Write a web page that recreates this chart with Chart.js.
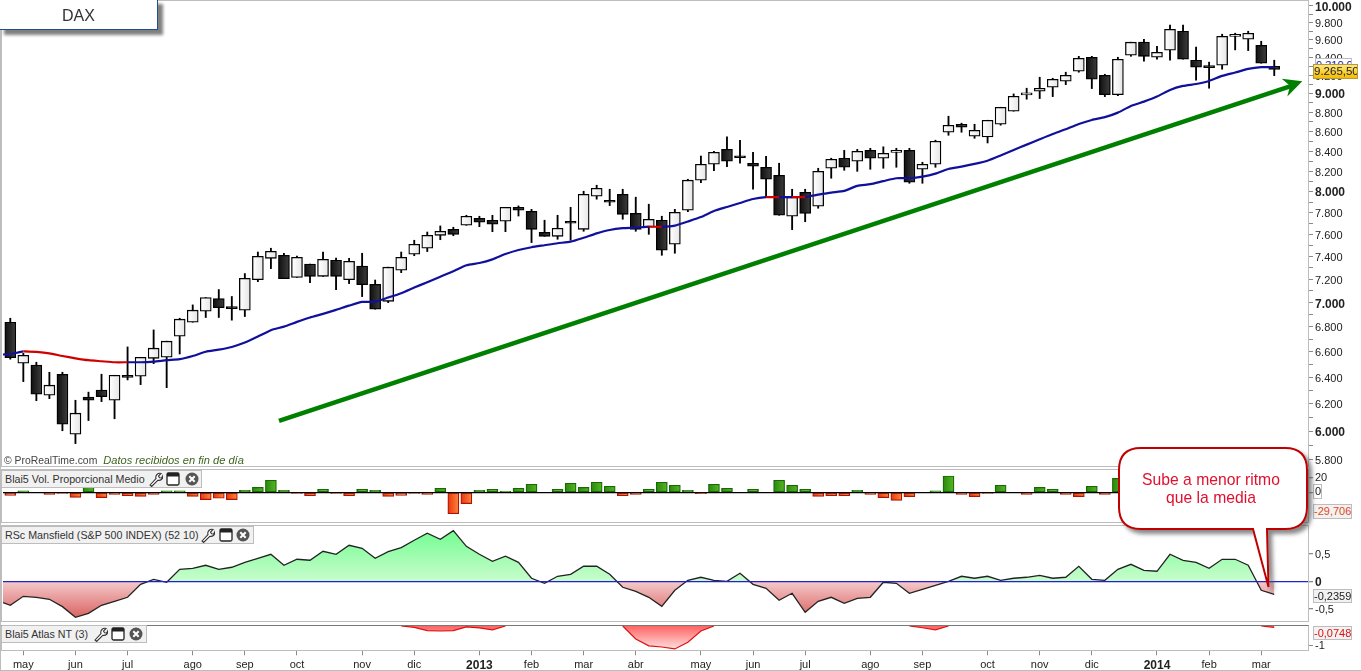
<!DOCTYPE html>
<html>
<head>
<meta charset="utf-8">
<title>DAX</title>
<script src="https://cdn.jsdelivr.net/npm/chart.js@4"></script>
<style>
  body { margin: 0; background: #fff; font-family: "Liberation Sans", Arial, sans-serif; width: 1361px; height: 671px; overflow: hidden; position: relative; }
  canvas { position: absolute; left: 0; }
  .frame { position: absolute; box-sizing: border-box; border: 1.5px solid #bdbdbd; pointer-events: none; }
  .cabecera { position: absolute; left: 2px; box-sizing: border-box; background: #f1f1f1; border: 1px solid #bdbdbd; border-left: none; font-size: 10.7px; color: #333; line-height: 16px; padding-left: 3px; white-space: nowrap; }
  .cabecera svg { position: absolute; top: 0; }
  .badge { position: absolute; box-sizing: border-box; border: 1px solid #bdbdbd; background: #f2f2f2; font-size: 11px; text-align: center; white-space: nowrap; overflow: hidden; }
  #titulo { position: absolute; left: -1px; top: -1px; width: 159px; height: 31px; box-sizing: border-box; background: #fff; border: 1.5px solid #1f4e8c; box-shadow: 5px 5px 3px #808080; text-align: center; font-size: 16px; line-height: 31px; color: #333; }
  #marca { position: absolute; left: 4px; top: 454px; font-size: 10.4px; line-height: 13px; color: #444; white-space: nowrap; }
  #marca i { color: #3f6420; margin-left: 3px; font-size: 11.1px; }
  #globo { position: absolute; left: 0; top: 0; pointer-events: none; }
</style>
</head>
<body>
<canvas id="graficaPrecio" width="1361" height="466" style="top:0"></canvas>
<canvas id="graficaVol" width="1361" height="52" style="top:470px"></canvas>
<canvas id="graficaRsc" width="1361" height="95" style="top:526px"></canvas>
<canvas id="graficaAtlas" width="1361" height="45" style="top:626px"></canvas>

<div class="frame" style="left:1px;top:0;width:1308px;height:467px"></div>
<div class="frame" style="left:1px;top:469px;width:1308px;height:54px"></div>
<div class="frame" style="left:1px;top:525px;width:1308px;height:97px"></div>
<div class="frame" style="left:1px;top:625px;width:1308px;height:26px;border-top-color:#777"></div>
<div class="frame" style="left:-3px;top:650px;width:1370px;height:21px;border-top:none;border-right:none"></div>
<div class="frame" style="left:0;top:0;width:2px;height:671px;border-right:none"></div>

<div id="titulo">DAX</div>
<div id="marca">© ProRealTime.com <i>Datos recibidos en fin de día</i></div>

<div class="cabecera" id="cabVol" style="top:470px;width:200px;height:18px">Blai5 Vol. Proporcional Medio</div>
<div class="cabecera" id="cabRsc" style="top:526px;width:252px;height:18px">RSc Mansfield (S&amp;P 500 INDEX) (52 10)</div>
<div class="cabecera" id="cabAtlas" style="top:625px;width:145px;height:18px">Blai5 Atlas NT (3)</div>

<div class="badge" style="left:1315px;top:58px;width:37px;height:14px;background:#fff;color:#1a1aa0;line-height:12px">9.310,0</div>
<div class="badge" style="left:1313px;top:64px;width:45px;height:15px;background:linear-gradient(#ffe680,#f5bc00);border-color:#b59a3a;color:#222;line-height:13px;font-size:11.5px">9.265,50</div>
<div class="badge" style="left:1313px;top:484px;width:9px;height:15px;background:transparent"></div>
<div class="badge" style="left:1313px;top:504px;width:39px;height:15px;color:#e2491c;line-height:13px">-29,706</div>
<div class="badge" style="left:1313px;top:589px;width:39px;height:14px;color:#222;line-height:12px">-0,2359</div>
<div class="badge" style="left:1313px;top:626px;width:39px;height:14px;color:#e01010;line-height:12px">-0,0748</div>

<svg id="globo" width="1361" height="671">
  <defs><filter id="sombra" x="-10%" y="-10%" width="125%" height="125%"><feDropShadow dx="4" dy="4" stdDeviation="2" flood-color="#555" flood-opacity="0.7"/></filter></defs>
  <path d="M1141 448 H1285 Q1307 448 1307 470 V507 Q1307 529 1285 529 H1267 L1268.5 587 L1253 529 H1141 Q1119 529 1119 507 V470 Q1119 448 1141 448 Z" fill="#fff" stroke="#c00000" stroke-width="2" filter="url(#sombra)"/>
  <text x="1211" y="485" text-anchor="middle" font-family="Liberation Sans" font-size="15.7" fill="#e0102e">Sube a menor ritmo</text>
  <text x="1211" y="503" text-anchor="middle" font-family="Liberation Sans" font-size="15.7" fill="#e0102e">que la media</text>
</svg>

<script>
// Velas semanales
const aperturas = [6838,6509,6494,6264,6423,5977,6249,6302,6226,6408,6408,6548,6556,6724,6838,6930,7036,6963,6938,7197,7384,7411,7217,7332,7226,7367,7197,7316,7157,7012,7279,7420,7474,7591,7646,7683,7748,7730,7720,7851,7813,7618,7582,7720,7646,7956,7918,7975,7794,7665,7730,7510,7823,8111,8268,8417,8340,8278,8238,8158,7767,7994,7861,8228,8328,8298,8407,8328,8387,8407,8218,8268,8592,8675,8551,8544,8675,8812,8986,9026,9070,9135,9246,9402,9201,8989,9425,9574,9402,9482,9701,9369,9302,9313,9642,9608,9539,9300];
const maximos = [6871,6587,6517,6439,6439,6226,6287,6424,6416,6638,6556,6775,6684,6871,6982,7044,7112,7053,7250,7440,7474,7429,7404,7332,7440,7387,7384,7429,7194,7306,7440,7546,7621,7677,7665,7776,7767,7776,7851,7864,7832,7730,7776,7851,8004,8062,8023,8023,7947,7880,7767,7832,8120,8350,8397,8544,8510,8387,8347,8278,8023,8023,8228,8328,8407,8417,8428,8443,8428,8428,8288,8510,8759,8686,8675,8717,8854,8997,9059,9179,9168,9235,9413,9413,9212,9402,9574,9608,9528,9774,9774,9517,9347,9666,9678,9701,9585,9369];
const minimos = [6541,6367,6223,6238,6002,5910,6076,6216,6089,6380,6344,6506,6321,6582,6838,6877,6877,6855,6885,7180,7293,7205,7217,7171,7226,7112,7163,7052,6946,7001,7258,7407,7444,7551,7587,7683,7670,7624,7624,7769,7525,7582,7555,7546,7628,7928,7867,7739,7628,7600,7411,7429,7810,8087,8204,8244,8278,8023,7947,7776,7643,7716,7842,8130,8208,8198,8218,8228,8238,8081,8081,8238,8561,8592,8530,8482,8665,8812,8940,8947,8968,9098,9235,9055,8968,8978,9413,9358,9380,9369,9380,9146,9059,9268,9486,9478,9335,9197];
const cierres = [6553,6572,6272,6340,6049,6130,6226,6253,6416,6400,6556,6628,6684,6863,6938,7044,6959,6951,7208,7402,7447,7205,7393,7226,7375,7226,7358,7154,6946,7306,7393,7510,7591,7628,7600,7767,7711,7693,7851,7823,7646,7582,7656,7702,7975,8033,7899,7785,7646,7739,7456,7804,8111,8268,8387,8298,8333,8248,8120,7776,7947,7794,8198,8318,8238,8397,8328,8377,8407,8091,8268,8500,8665,8644,8612,8717,8854,8972,8994,9059,9157,9201,9391,9157,8989,9380,9574,9413,9459,9724,9380,9291,9286,9642,9650,9678,9335,9265.5];

// Media móvil (mediaInicio y rscInicio: valor en el borde izquierdo del panel)
const media = [6580,6603,6598,6587,6566,6548,6533,6525,6517,6517,6517,6522,6533,6541,6566,6600,6616,6638,6673,6721,6773,6802,6841,6877,6907,6940,6976,7007,7009,7044,7081,7129,7175,7223,7270,7323,7343,7375,7422,7458,7483,7501,7519,7533,7569,7609,7640,7656,7661,7671,7668,7680,7718,7759,7816,7854,7892,7930,7947,7947,7947,7950,7971,7991,8007,8056,8072,8102,8130,8130,8145,8175,8221,8244,8271,8303,8355,8411,8465,8520,8574,8622,8678,8720,8749,8797,8868,8914,8968,9040,9084,9105,9138,9194,9231,9272,9291,9291];
const mediaInicio = 6578;
const tramosRojos = [2,3,4,5,6,7,8,9,50,59,61];

// Flecha verde (semana, precio)
const flechaX = [20.62, 98.44];
const flechaY = [6074, 9090];

// Paneles inferiores
const volumen = [-4.2,1.9,0,-2.8,-1.4,-7,7,-7.4,-2.8,-4.6,-5.6,-2.8,1.9,1.9,-5.6,-10.2,-8.3,-10.2,2.8,6.9,16.7,2.8,-1.4,-4.6,4.2,-1.4,-4.6,4.2,2.8,-5.6,-4.2,-1.4,-2.8,5.6,-29.706,-15.7,2.8,4.2,1.4,5.6,11.1,0,4.2,12.5,6.9,13.9,8.3,-4.6,-2.8,4.2,13.9,9.7,2.8,-1.9,11.1,5.6,0,4.2,0,16.7,9.7,4.2,-5.6,-4.6,-4.6,2.8,-2.8,-7.4,-11.1,-6,0,1.9,22.7,-2.8,-6,-1.4,9.7,0,-2.8,6.9,4.2,-2.8,-6,8.3,-2.8,19.4];
const rsc = [-0.436,-0.273,-0.291,-0.327,-0.461,-0.655,-0.582,-0.436,-0.364,-0.291,-0.055,0.036,-0.018,0.218,0.236,0.291,0.218,0.255,0.345,0.418,0.491,0.291,0.4,0.382,0.545,0.491,0.655,0.6,0.418,0.539,0.612,0.745,0.873,0.764,0.921,0.636,0.491,0.364,0.455,0.345,0.055,-0.036,0.091,0.127,0.273,0.273,0.127,-0.109,-0.182,-0.291,-0.455,-0.164,0.018,0.073,0.018,0,0.145,-0.055,-0.127,-0.345,-0.218,-0.564,-0.364,-0.291,-0.4,-0.309,-0.291,-0.018,-0.036,-0.218,-0.145,-0.073,0,0.091,0.055,0.091,0.018,0.055,0.073,0.109,0.055,0.073,0.273,0.036,0.018,0.218,0.309,0.2,0.182,0.491,0.382,0.345,0.236,0.4,0.4,0.291,-0.164,-0.2359];
const rscInicio = -0.388;
const atlas = [0,0,0,0,0,0,0,0,0,0,0,0,0,0,0,0,0,0,0,0,0,0,0,0,0,0,0,0,0,0,0,-0.07,-0.24,-0.26,-0.24,-0.05,-0.1,-0.2,0,0,0,0,0,0,0,0,0,0,-0.67,-1.03,-1.09,-1.19,-0.84,-0.26,0,0,0,0,0,0,0,0,0,0,0,0,0,0,0,0,-0.09,-0.2,0,0,0,0,0,0,0,0,0,0,0,0,0,0,0,0,0,0,0,0,0,0,0,0,0,-0.0748];

// Ejes
const mesesTexto = ["may","jun","jul","ago","sep","oct","nov","dic","2013","feb","mar","abr","may","jun","jul","ago","sep","oct","nov","dic","2014","feb","mar"];
const mesesSemana = [1,5,9,14,18,22,27,31,36,40,44,48,53,57,61,66,70,75,79,83,88,92,96];
const preciosMarcas = [10000,9800,9600,9400,9200,9000,8800,8600,8400,8200,8000,7800,7600,7400,7200,7000,6800,6600,6400,6200,6000,5800];
const preciosMedios = [9900,9700,9500,9300,9100,8900,8700,8500,8300,8100,7900,7700,7500,7300,7100,6900,6700,6500,6300,6100,5900];

const xMin = -0.56, xMax = 99.59;

Chart.defaults.font.family = '"Liberation Sans", Arial, sans-serif';
Chart.defaults.font.size = 11;
Chart.defaults.color = "#222";
Chart.defaults.animation = false;
Chart.defaults.responsive = false;
Chart.defaults.plugins.legend.display = false;
Chart.defaults.plugins.tooltip.enabled = false;

const puntos = arr => arr.map((y, x) => ({ x, y }));

// Degradado horizontal de cada barra
function degradado(ctx, izq, der) {
    const esc = ctx.chart.scales.x;
    const px = esc ? esc.getPixelForValue(ctx.dataIndex) : NaN;
    if (!Number.isFinite(px)) return izq;
    const g = ctx.chart.ctx.createLinearGradient(px - 5, 0, px + 5, 0);
    g.addColorStop(0, izq);
    g.addColorStop(1, der);
    return g;
}

function ejeX() {
    return { type: "linear", offset: false, min: xMin, max: xMax, display: false, grid: { display: false }, ticks: { display: false } };
}

// El eje derecho no debe robar espacio al área de dibujo
function ajustarEjeY(s) {
    s.width = 53;
    s.paddingTop = 0;
    s.paddingBottom = 0;
}

function ejeY(extra) {
    return Object.assign({
        position: "right",
        afterFit: ajustarEjeY,
        border: { display: false },
        grid: { drawOnChartArea: false, tickLength: 5, tickColor: "#8a8a8a" },
        ticks: { padding: 2, autoSkip: false, maxRotation: 0 }
    }, extra);
}

// Punta de la flecha verde
const puntaFlecha = {
    id: "puntaFlecha",
    afterDatasetsDraw(chart) {
        const ex = chart.scales.x.getPixelForValue(flechaX[1]);
        const ey = chart.scales.y.getPixelForValue(flechaY[1]);
        const c = chart.ctx;
        c.save();
        c.fillStyle = "#008000";
        c.beginPath();
        c.moveTo(ex + 9.3, ey - 4.2);
        c.lineTo(ex - 11.3, ey - 6.5);
        c.lineTo(ex - 3, ey + 0.5);
        c.lineTo(ex - 5.7, ey + 11.2);
        c.closePath();
        c.fill();
        c.restore();
    }
};

// Precio
new Chart(document.getElementById("graficaPrecio"), {
    type: "bar",
    plugins: [puntaFlecha],
    data: {
        datasets: [
            {
                type: "line", order: 0,
                data: flechaX.map((x, i) => ({ x, y: flechaY[i] })),
                borderColor: "#008000", borderWidth: 4.5, pointRadius: 0, borderCapStyle: "butt"
            },
            {
                type: "line", order: 1,
                data: [{ x: xMin, y: mediaInicio }, ...puntos(media)],
                borderColor: "#10109c", borderWidth: 2.2, pointRadius: 0, tension: 0.2,
                segment: { borderColor: c => tramosRojos.includes(c.p0DataIndex) ? "#d00000" : "#10109c" }
            },
            {
                order: 2, grouped: false, maxBarThickness: 11, barPercentage: 1, categoryPercentage: 1, minBarLength: 2,
                data: aperturas.map((o, x) => ({ x, y: [o, cierres[x]] })),
                borderColor: "#000", borderWidth: 1.3, borderSkipped: false,
                backgroundColor: c => cierres[c.dataIndex] >= aperturas[c.dataIndex]
                    ? degradado(c, "#ffffff", "#e6e6e6")
                    : degradado(c, "#111111", "#3c3c3c")
            },
            {
                order: 3, grouped: false, maxBarThickness: 1.2, barPercentage: 1, categoryPercentage: 1,
                data: maximos.map((h, x) => ({ x, y: [minimos[x], h] })),
                backgroundColor: "#000"
            }
        ]
    },
    options: {
        layout: { padding: { left: 3, top: 1 } },
        scales: {
            x: ejeX(),
            y: ejeY({
                type: "logarithmic", min: 5753, max: 10060,
                afterBuildTicks: s => { s.ticks = preciosMarcas.concat(preciosMedios).map(value => ({ value })); },
                ticks: {
                    padding: 2, autoSkip: false, maxRotation: 0, labelOffset: 1.5,
                    callback: v => preciosMarcas.includes(v) ? String(v).replace(/(\d)(\d{3})$/, "$1.$2") : "",
                    font: c => c.tick && c.tick.value % 1000 === 0 ? { size: 12, weight: "bold" } : { size: 11 }
                }
            })
        }
    }
});

// Volumen
new Chart(document.getElementById("graficaVol"), {
    type: "bar",
    data: {
        datasets: [{
            grouped: false, maxBarThickness: 11, barPercentage: 1, categoryPercentage: 1,
            data: puntos(volumen),
            borderWidth: 1.2, borderSkipped: false,
            borderColor: c => volumen[c.dataIndex] >= 0 ? "#156a00" : "#b01400",
            backgroundColor: c => volumen[c.dataIndex] >= 0
                ? degradado(c, "#2a8a0c", "#55b524")
                : degradado(c, "#e83a12", "#ff8238")
        }]
    },
    options: {
        layout: { padding: { left: 3 } },
        scales: {
            x: ejeX(),
            y: ejeY({
                min: -41.25, max: 31,
                afterBuildTicks: s => { s.ticks = [20, 0].map(value => ({ value })); },
                grid: { z: 1, tickLength: 5, tickColor: "#8a8a8a", color: c => c.tick.value === 0 ? "#000" : "transparent", lineWidth: 1.3 }
            })
        }
    }
});

// RSc Mansfield
const ctxRsc = document.getElementById("graficaRsc").getContext("2d");
const verdeRsc = ctxRsc.createLinearGradient(0, 0, 0, 55);
verdeRsc.addColorStop(0, "#6cfc8c");
verdeRsc.addColorStop(1, "#c8fdcc");
const rojoRsc = ctxRsc.createLinearGradient(0, 55, 0, 95);
rojoRsc.addColorStop(0, "#f5cccc");
rojoRsc.addColorStop(1, "#d85858");

new Chart(ctxRsc, {
    type: "line",
    data: {
        datasets: [{
            data: [{ x: xMin, y: rscInicio }, ...puntos(rsc)],
            borderColor: "#222", borderWidth: 1.3, pointRadius: 0,
            fill: { target: { value: 0 }, above: verdeRsc, below: rojoRsc }
        }]
    },
    options: {
        layout: { padding: { left: 3 } },
        scales: {
            x: ejeX(),
            y: ejeY({
                min: -0.722, max: 1.005,
                afterBuildTicks: s => { s.ticks = [0.5, 0, -0.5].map(value => ({ value })); },
                grid: { z: 1, tickLength: 5, tickColor: "#8a8a8a", color: c => c.tick.value === 0 ? "#2222cc" : "transparent", lineWidth: 1.3 },
                ticks: {
                    padding: 2, autoSkip: false, maxRotation: 0, labelOffset: 1.5,
                    callback: v => String(v).replace(".", ","),
                    font: c => c.tick && c.tick.value === 0 ? { size: 12, weight: "bold" } : { size: 11 }
                }
            })
        }
    }
});

// Atlas
const ctxAtlas = document.getElementById("graficaAtlas").getContext("2d");
const rojoAtlas = ctxAtlas.createLinearGradient(0, 0, 0, 24);
rojoAtlas.addColorStop(0, "#ff6464");
rojoAtlas.addColorStop(1, "#ffe4e4");

new Chart(ctxAtlas, {
    type: "line",
    data: {
        datasets: [{
            data: puntos(atlas),
            borderColor: "#e01010", borderWidth: 1.2, pointRadius: 0,
            segment: { borderColor: c => c.p0.parsed.y === 0 && c.p1.parsed.y === 0 ? "transparent" : "#e01010" },
            fill: { target: { value: 0 }, below: rojoAtlas, above: rojoAtlas }
        }]
    },
    options: {
        scales: {
            x: {
                type: "linear", offset: false, min: xMin, max: xMax,
                afterFit: s => { s.height = 20.7; s.paddingLeft = 0; s.paddingRight = 0; },
                afterBuildTicks: s => { s.ticks = mesesSemana.map(value => ({ value })); },
                border: { display: false },
                grid: { drawOnChartArea: false, tickLength: 5, tickColor: "#8a8a8a" },
                ticks: {
                    padding: 3, autoSkip: false, maxRotation: 0,
                    callback: v => mesesTexto[mesesSemana.indexOf(v)],
                    font: c => c.tick && /^\d/.test(mesesTexto[mesesSemana.indexOf(c.tick.value)]) ? { size: 12, weight: "bold" } : { size: 11 }
                }
            },
            y: ejeY({
                min: -1.26, max: 0,
                afterBuildTicks: s => { s.ticks = [{ value: -1 }]; },
                ticks: { padding: 2, autoSkip: false, maxRotation: 0, labelOffset: 1 }
            })
        },
        layout: { padding: { left: 3 } }
    }
});

// Iconos de las cabeceras
function iconos(id, posiciones) {
    const caja = document.getElementById(id);
    const dibujos = [
        '<path d="M3 14 L9 7.5 A4 4 0 0 1 14 2.5 L11.5 5 L12.5 6.8 L14.6 7 L16 4.5 A4.3 4.3 0 0 1 10.8 9.3 L4.6 15.5 Z" fill="#fff" stroke="#333" stroke-width="1.1"/>',
        '<rect x="2" y="2" width="12" height="12" rx="1.5" fill="#fff" stroke="#222" stroke-width="1.3"/><rect x="2" y="2" width="12" height="3.5" fill="#222"/>',
        '<circle cx="8" cy="8" r="6.5" fill="#555"/><path d="M5.3 5.3 L10.7 10.7 M10.7 5.3 L5.3 10.7" stroke="#fff" stroke-width="2"/>'
    ];
    posiciones.forEach((x, i) => {
        caja.insertAdjacentHTML("beforeend", `<svg width="16" height="16" style="left:${x - 10}px">${dibujos[i]}</svg>`);
    });
}
iconos("cabVol", [155, 173, 192]);
iconos("cabRsc", [207, 226, 243]);
iconos("cabAtlas", [100, 118, 136]);
</script>
</body>
</html>
